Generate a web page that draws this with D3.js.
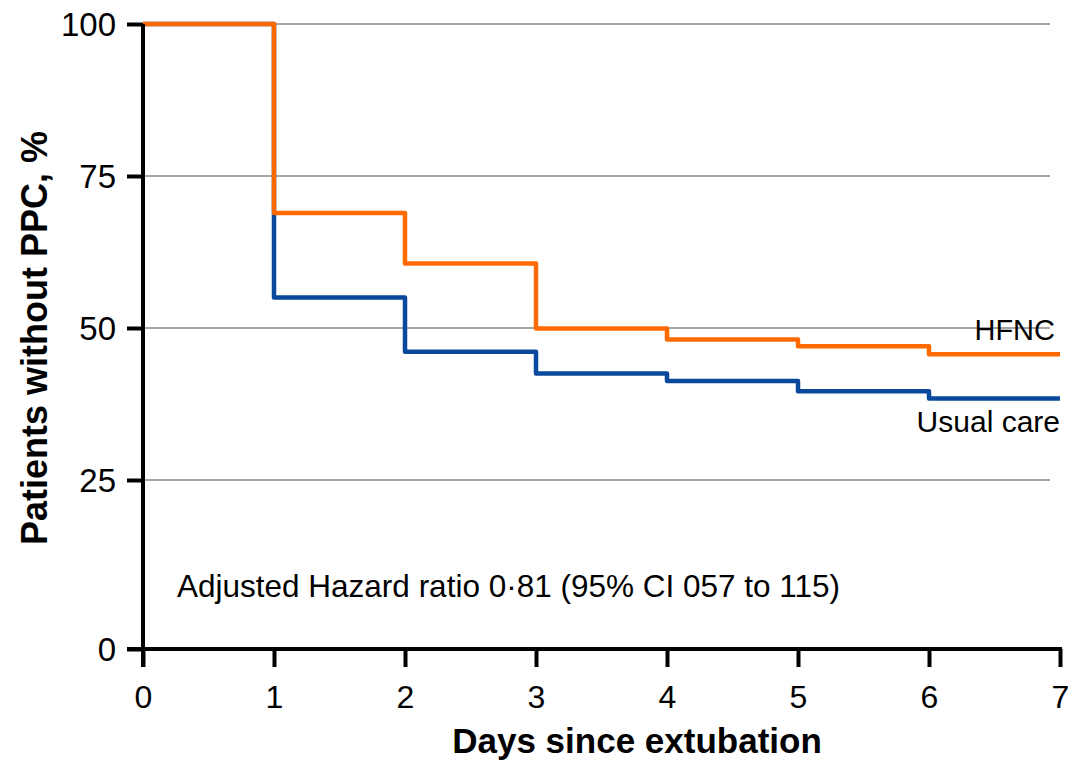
<!DOCTYPE html>
<html>
<head>
<meta charset="utf-8">
<script src="https://cdn.jsdelivr.net/npm/d3@7"></script>
<style>
  html, body { margin: 0; padding: 0; background: #fff; }
  svg { display: block; font-family: "Liberation Sans", Arial, sans-serif; }
</style>
</head>
<body>
<svg id="chart" width="1068" height="763"></svg>
<script>
// Kaplan-Meier style step curves: % of patients without PPC by day
const days = [0, 1, 2, 3, 4, 5, 6, 7];
const hfnc = [100, 68.9, 60.6, 49.9, 48.1, 47.0, 45.7, 45.7];
const usualCare = [100, 55.0, 46.1, 42.5, 41.3, 39.6, 38.4, 38.4];
const yTicks = [0, 25, 50, 75, 100];
const xTicks = [0, 1, 2, 3, 4, 5, 6, 7];
const seriesNames = ["HFNC", "Usual care"];
const annotation = "Adjusted Hazard ratio 0·81 (95% CI 057 to 115)";

const FONT = "'Liberation Sans', Arial, sans-serif";
const NARROW = "'Liberation Sans Narrow', 'Arial Narrow', 'Liberation Sans', Arial, sans-serif";
const svg = d3.select("#chart");

const x = d3.scaleLinear().domain([0, 7]).range([143, 1060]);
// the origin sits a little below the regular 25-unit spacing
const y = d3.scaleLinear().domain([0, 25, 100]).range([649, 480, 24]);

// horizontal gridlines
svg.append("g")
  .selectAll("line")
  .data(yTicks.filter(d => d > 0))
  .join("line")
  .attr("x1", x(0)).attr("x2", 1050)
  .attr("y1", d => y(d)).attr("y2", d => y(d))
  .attr("stroke", "#a6a6a6").attr("stroke-width", 2);

// step curves
const line = d3.line()
  .x(d => x(d[0]))
  .y(d => y(d[1]))
  .curve(d3.curveStepAfter);

const series = [
  { name: "Usual care", values: usualCare, color: "#0a489c" },
  { name: "HFNC", values: hfnc, color: "#ff6a00" }
];

svg.append("g")
  .selectAll("path")
  .data(series)
  .join("path")
  .attr("d", s => line(days.map((d, i) => [d, s.values[i]])))
  .attr("fill", "none")
  .attr("stroke", s => s.color)
  .attr("stroke-width", 4.5)
  .attr("stroke-linejoin", "round");

// y axis
const yAxis = svg.append("g")
  .attr("transform", `translate(${x(0)},0)`)
  .call(d3.axisLeft(y).tickValues(yTicks).tickSize(16).tickPadding(10).tickFormat(d3.format("d")));
yAxis.attr("font-size", null).attr("font-family", null);
yAxis.select(".domain").attr("stroke", "#000").attr("stroke-width", 4)
  .attr("d", `M0,${y(100)}V${y(0) + 18}`);
yAxis.selectAll(".tick line").attr("stroke", "#000").attr("stroke-width", 4).attr("x1", 0).attr("x2", -16);
yAxis.selectAll(".tick text")
  .attr("x", -27)
  .style("font-size", "33px").style("font-family", FONT)
  .attr("fill", "#000").attr("dy", "0.36em");

// x axis
const xAxis = svg.append("g")
  .attr("transform", `translate(0,${y(0)})`)
  .call(d3.axisBottom(x).tickValues(xTicks).tickSize(18).tickPadding(22).tickFormat(d3.format("d")));
xAxis.attr("font-size", null).attr("font-family", null);
xAxis.select(".domain").attr("stroke", "#000").attr("stroke-width", 4)
  .attr("d", `M${x(0) - 16},0H${x(7) + 2}`);
xAxis.selectAll(".tick line").attr("stroke", "#000").attr("stroke-width", 4);
xAxis.selectAll(".tick text")
  .attr("y", 36)
  .style("font-size", "32px").style("font-family", NARROW)
  .attr("fill", "#000");

// series labels
svg.append("text")
  .attr("x", 1055).attr("y", 340)
  .attr("text-anchor", "end").style("font-size", "29px").attr("fill", "#000")
  .text(seriesNames[0]);
svg.append("text")
  .attr("x", 1060).attr("y", 432)
  .attr("text-anchor", "end").style("font-size", "30px").attr("fill", "#000")
  .text(seriesNames[1]);

// hazard ratio note
svg.append("text")
  .attr("x", 177).attr("y", 597)
  .style("font-size", "31.5px").attr("fill", "#000")
  .text(annotation);

// axis titles
svg.append("text")
  .attr("x", 637).attr("y", 753)
  .attr("text-anchor", "middle").style("font-size", "35px").attr("font-weight", "bold")
  .text("Days since extubation");
svg.append("text")
  .attr("transform", "translate(47,338) rotate(-90)")
  .attr("text-anchor", "middle").style("font-size", "36px").attr("font-weight", "bold")
  .text("Patients without PPC, %");
</script>
</body>
</html>
